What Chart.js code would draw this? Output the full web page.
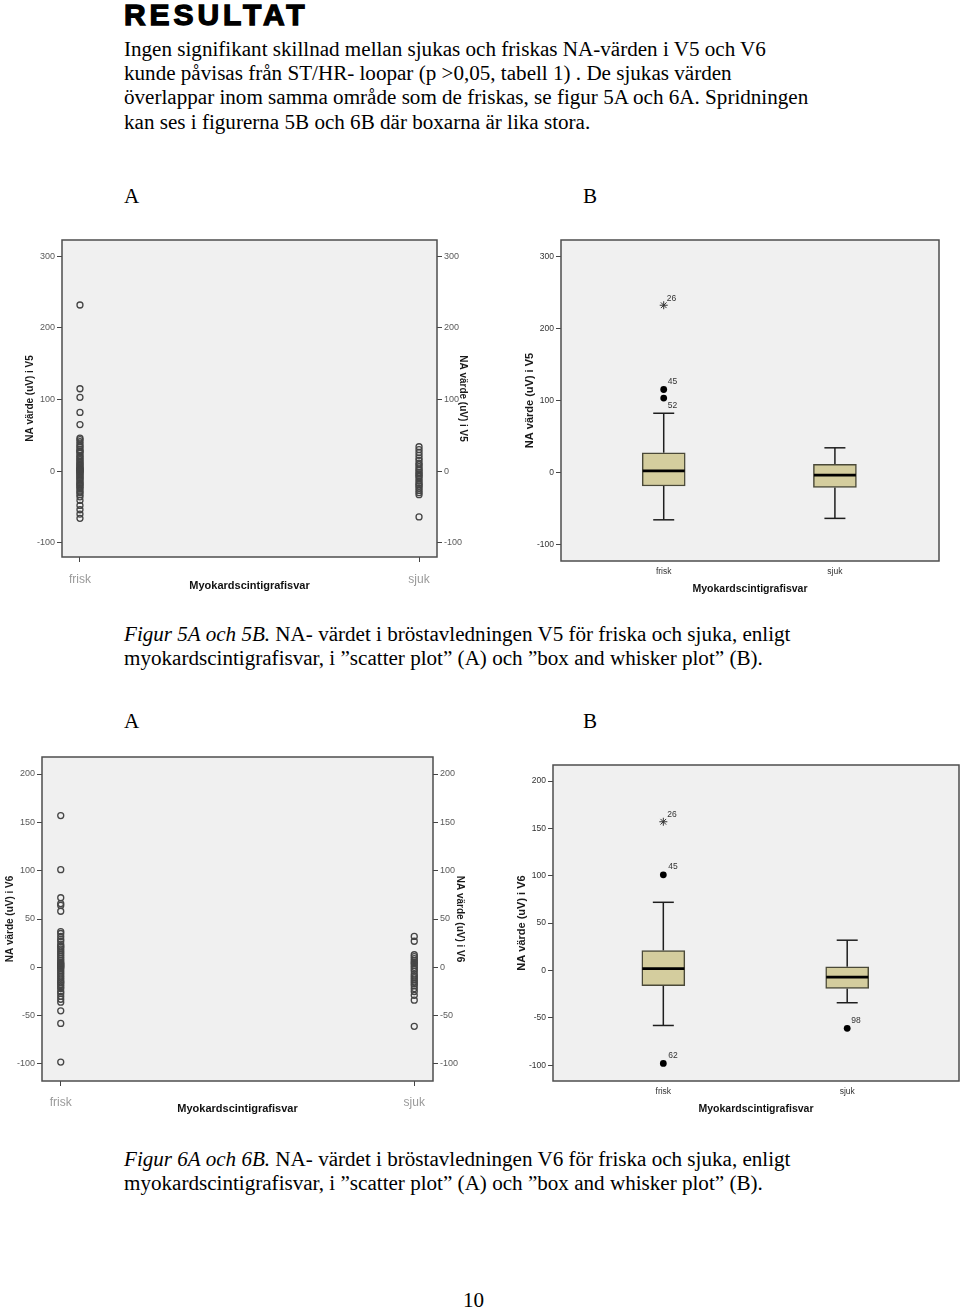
<!DOCTYPE html>
<html><head><meta charset="utf-8">
<script src="https://cdn.jsdelivr.net/npm/chart.js@4.4.0/dist/chart.umd.min.js"></script>
<style>
html,body{margin:0;padding:0;background:#fff;}
body{width:960px;height:1308px;position:relative;overflow:hidden;font-family:"Liberation Serif","Times New Roman",serif;color:#000;}
.t{position:absolute;white-space:nowrap;font-size:21.1px;line-height:24.3px;}
.h{position:absolute;left:124px;top:0;font-family:"Liberation Sans",Arial,sans-serif;font-weight:900;font-size:30px;line-height:30px;letter-spacing:3.9px;-webkit-text-stroke:1.3px #000;}
canvas{position:absolute;}
</style></head><body>
<div class="h">RESULTAT</div>
<div class="t" style="left:124px;top:36.8px;">Ingen signifikant skillnad mellan sjukas och friskas NA-värden i V5 och V6<br>kunde påvisas från ST/HR- loopar (p &gt;0,05, tabell 1) . De sjukas värden<br>överlappar inom samma område som de friskas, se figur 5A och 6A. Spridningen<br>kan ses i figurerna 5B och 6B där boxarna är lika stora.</div>
<div class="t" style="left:124px;top:183.8px;">A</div>
<div class="t" style="left:583px;top:183.8px;">B</div>
<canvas id="c5a" width="492" height="380" style="left:0;top:228px;"></canvas>
<canvas id="c5b" width="445" height="380" style="left:505px;top:228px;"></canvas>
<div class="t" style="left:124px;top:621.8px;"><i>Figur 5A och 5B.</i> NA- värdet i bröstavledningen V5 för friska och sjuka, enligt<br>myokardscintigrafisvar, i ”scatter plot” (A) och ”box and whisker plot” (B).</div>
<div class="t" style="left:124px;top:708.8px;">A</div>
<div class="t" style="left:583px;top:708.8px;">B</div>
<canvas id="c6a" width="490" height="385" style="left:0;top:745px;"></canvas>
<canvas id="c6b" width="455" height="377" style="left:505px;top:753px;"></canvas>
<div class="t" style="left:124px;top:1146.8px;"><i>Figur 6A och 6B.</i> NA- värdet i bröstavledningen V6 för friska och sjuka, enligt<br>myokardscintigrafisvar, i ”scatter plot” (A) och ”box and whisker plot” (B).</div>
<div class="t" style="left:463px;top:1287.8px;">10</div>
<script>
// ---- data ----
const categories = ['frisk', 'sjuk'];
const xTitle = 'Myokardscintigrafisvar';
const v5Title = 'NA värde (uV) i V5';
const v6Title = 'NA värde (uV) i V6';
const v5TicksY = [-100, 0, 100, 200, 300];
const v6TicksY = [-100, -50, 0, 50, 100, 150, 200];

// scatter values (uV)
const v5Frisk = [232, 115, 103, 82, 65, 46, 44, 41, 38, 35, 33, 30, 28, 27, 25, 22, 20, 18, 16, 14, 12, 10, 9, 7, 5, 4, 3, 2, 1, 0, -1, -2, -4, -5, -7, -9, -10, -12, -14, -16, -18, -19, -21, -23, -25, -28, -30, -33, -36, -41, -48, -54, -60, -66];
const v5Sjuk = [34, 30, 26, 22, 18, 15, 11, 9, 6, 3, 1, -2, -4, -6, -8, -11, -14, -17, -19, -21, -24, -27, -30, -33, -64];
const v6Frisk = [157, 101, 72, 66, 64, 58, 37, 35, 32, 29, 27, 24, 22, 21, 19, 17, 15, 13, 11, 9, 7, 5, 4, 3, 2, 1, 0, -1, -3, -5, -7, -9, -11, -13, -15, -16, -18, -20, -22, -25, -27, -30, -33, -36, -45, -58, -98];
const v6Sjuk = [32, 27, 13, 11, 9, 7, 5, 4, 2, 0, -2, -4, -7, -9, -11, -13, -15, -17, -19, -22, -25, -29, -34, -61];

// box stats per category: [low whisker, Q1, median, Q3, high whisker]
const v5BoxStats = [[-66, -19, 2, 27, 82], [-64, -21, -4, 11, 34]];
const v6BoxStats = [[-58, -16, 2, 21, 72], [-34, -19, -7, 4, 32]];
// outliers (category number, value, case id)
const v5OutlierCat = [1, 1];
const v5OutlierVal = [115, 103];
const v5OutlierId = ['45', '52'];
const v5ExtremeCat = [1];
const v5ExtremeVal = [232];
const v5ExtremeId = ['26'];
const v6OutlierCat = [1, 1, 2];
const v6OutlierVal = [101, -98, -61];
const v6OutlierId = ['45', '62', '98'];
const v6ExtremeCat = [1];
const v6ExtremeVal = [157];
const v6ExtremeId = ['26'];

// ---- drawing ----
const fontSans = '"Liberation Sans", Arial, sans-serif';
Chart.defaults.font.family = fontSans;

const frameBg = {
  id: 'frameBg',
  beforeDraw(c) {
    const a = c.chartArea, x = c.ctx;
    x.save(); x.fillStyle = '#f0f0f0';
    x.fillRect(a.left, a.top, a.right - a.left, a.bottom - a.top); x.restore();
  },
  afterDraw(c) {
    const a = c.chartArea, x = c.ctx;
    x.save(); x.strokeStyle = '#4e4e4e'; x.lineWidth = 1.5;
    x.strokeRect(a.left, a.top, a.right - a.left, a.bottom - a.top); x.restore();
  }
};
const pointLabels = {
  id: 'pointLabels',
  afterDatasetsDraw(c) {
    const x = c.ctx;
    c.data.datasets.forEach((ds, i) => {
      if (!ds.caseIds) return;
      const meta = c.getDatasetMeta(i);
      x.save();
      x.font = '8.5px ' + fontSans; x.fillStyle = '#333';
      x.textAlign = 'left'; x.textBaseline = 'middle';
      meta.data.forEach((pt, j) => {
        const off = ds.labelOffsets[j];
        x.fillText(ds.caseIds[j], pt.x + off[0], pt.y + off[1]);
      });
      x.restore();
    });
  }
};

function yAxis(o) {
  return {
    type: 'linear', position: o.position, min: o.min, max: o.max,
    afterBuildTicks: s => { s.ticks = o.ticks.map(v => ({ value: v })); },
    afterFit: s => { s.width = o.width; },
    grid: { drawOnChartArea: false, drawTicks: true, tickLength: o.tickLength, color: '#444', lineWidth: 1 },
    border: { display: false },
    ticks: { font: { size: o.tickSize }, color: o.tickColor, padding: o.tickPad },
    title: { display: true, text: o.title, font: { size: o.titleSize, weight: 'bold' }, color: '#1a1a1a', padding: { top: o.titlePad, bottom: 0 } }
  };
}
function xAxis(o) {
  return {
    type: 'linear', min: o.min, max: o.max, offset: false,
    afterBuildTicks: s => { s.ticks = categories.map((_, i) => ({ value: i + 1 })); },
    afterFit: s => { s.height = o.height; },
    grid: { drawOnChartArea: false, offset: false, drawTicks: o.drawTicks, tickLength: 5, color: '#444' },
    border: { display: false },
    ticks: { callback: v => categories[v - 1], font: { size: o.tickSize }, color: o.tickColor, padding: o.tickPad, maxRotation: 0, autoSkip: false },
    title: { display: true, text: xTitle, font: { size: o.titleSize, weight: 'bold' }, color: '#111', padding: { top: 0, bottom: o.titlePad } }
  };
}

function scatterChart(id, o) {
  const pt = { showLine: false, pointRadius: 3, pointHoverRadius: 3, pointBorderWidth: 1.3, pointBorderColor: '#454545', pointBackgroundColor: 'rgba(0,0,0,0)' };
  new Chart(document.getElementById(id), {
    type: 'scatter',
    data: { datasets: [
      Object.assign({ data: o.frisk.map(v => ({ x: 1, y: v })) }, pt),
      Object.assign({ data: o.sjuk.map(v => ({ x: 2, y: v })) }, pt)
    ] },
    options: {
      responsive: false, animation: false, events: [],
      layout: { autoPadding: false, padding: { top: 12, left: 0, right: 0, bottom: 0 } },
      plugins: { legend: { display: false }, tooltip: { enabled: false } },
      scales: {
        x: xAxis({ min: 0.947, max: 2.053, height: o.xHeight, drawTicks: true, tickSize: 12, tickColor: '#9a9a9a', tickPad: o.xTickPad, titleSize: 11, titlePad: o.xTitlePad }),
        y: yAxis({ position: 'left', min: o.min, max: o.max, ticks: o.ticks, width: o.leftW, tickLength: 5, tickSize: 9, tickColor: '#5a5a5a', tickPad: 2, title: o.title, titleSize: 10, titlePad: o.leftTitlePad }),
        y2: yAxis({ position: 'right', min: o.min, max: o.max, ticks: o.ticks, width: o.rightW, tickLength: 5, tickSize: 9, tickColor: '#5a5a5a', tickPad: 2, title: o.title, titleSize: 10, titlePad: o.rightTitlePad })
      }
    },
    plugins: [frameBg]
  });
}

function boxChart(id, o) {
  const box = o.stats.map((s, i) => ({ x: i + 1, y: [s[1], s[3]] }));
  const med = o.stats.map((s, i) => ({ x: i + 1, y: s[2] }));
  const caps = [], whisk = [];
  o.stats.forEach((s, i) => {
    caps.push({ x: i + 1, y: s[0] }, { x: i + 1, y: s[4] });
    whisk.push({ x: i + 1, y: s[3] }, { x: i + 1, y: s[4] }, { x: i + 1, y: null },
               { x: i + 1, y: s[1] }, { x: i + 1, y: s[0] }, { x: i + 1, y: null });
  });
  const outl = o.outCat.map((c, i) => ({ x: c, y: o.outVal[i] }));
  const ext = o.extCat.map((c, i) => ({ x: c, y: o.extVal[i] }));
  new Chart(document.getElementById(id), {
    type: 'bar',
    data: { datasets: [
      { type: 'line', data: whisk, borderColor: '#1e1e1e', borderWidth: 1.5, pointRadius: 0, spanGaps: false, order: 3 },
      { type: 'bar', data: box, barThickness: 43, backgroundColor: 'rgb(212,205,158)', borderColor: '#4a4938', borderWidth: 1.5, borderSkipped: false, order: 2 },
      { type: 'line', data: caps, showLine: false, pointStyle: 'line', pointRadius: 10.5, pointBorderWidth: 1.5, pointBorderColor: '#1e1e1e', order: 1 },
      { type: 'line', data: med, showLine: false, pointStyle: 'line', pointRadius: 21, pointBorderWidth: 2.6, pointBorderColor: '#000', order: 0 },
      { type: 'line', data: outl, showLine: false, pointStyle: 'circle', pointRadius: 3.4, pointBorderWidth: 0, pointBackgroundColor: '#000', caseIds: o.outId, labelOffsets: o.outOff, order: 0 },
      { type: 'line', data: ext, showLine: false, pointStyle: 'star', pointRadius: 4, pointBorderWidth: 1, pointBorderColor: '#333', caseIds: o.extId, labelOffsets: o.extOff, order: 0 }
    ] },
    options: {
      responsive: false, animation: false, events: [],
      layout: { autoPadding: false, padding: { top: 12, left: 0, right: o.padRight, bottom: 0 } },
      plugins: { legend: { display: false }, tooltip: { enabled: false } },
      scales: {
        x: xAxis({ min: 0.4, max: 2.608, height: o.xHeight, drawTicks: false, tickSize: 8.5, tickColor: '#333', tickPad: 6, titleSize: 10.5, titlePad: o.xTitlePad }),
        y: yAxis({ position: 'left', min: o.min, max: o.max, ticks: o.ticks, width: o.leftW, tickLength: 5, tickSize: 8.5, tickColor: '#333', tickPad: 2, title: o.title, titleSize: 11, titlePad: o.leftTitlePad })
      }
    },
    plugins: [frameBg, pointLabels]
  });
}

scatterChart('c5a', { frisk: v5Frisk, sjuk: v5Sjuk, min: -120, max: 322.8, ticks: v5TicksY, title: v5Title,
  leftW: 62, rightW: 55, xHeight: 51, xTickPad: 10, xTitlePad: 15.4, leftTitlePad: 24, rightTitlePad: 23 });
scatterChart('c6a', { frisk: v6Frisk, sjuk: v6Sjuk, min: -117.6, max: 217.6, ticks: v6TicksY, title: v6Title,
  leftW: 42, rightW: 57, xHeight: 49, xTickPad: 9, xTitlePad: 14.4, leftTitlePad: 4, rightTitlePad: 24 });
boxChart('c5b', { stats: v5BoxStats, outCat: v5OutlierCat, outVal: v5OutlierVal, outId: v5OutlierId, outOff: [[4, -8], [4, 8]],
  extCat: v5ExtremeCat, extVal: v5ExtremeVal, extId: v5ExtremeId, extOff: [[3, -7]],
  min: -123.2, max: 322.6, ticks: v5TicksY, title: v5Title, leftW: 56, padRight: 11, xHeight: 47, xTitlePad: 12.7, leftTitlePad: 18.4 });
boxChart('c6b', { stats: v6BoxStats, outCat: v6OutlierCat, outVal: v6OutlierVal, outId: v6OutlierId, outOff: [[5, -8], [5, -8], [4, -8]],
  extCat: v6ExtremeCat, extVal: v6ExtremeVal, extId: v6ExtremeId, extOff: [[4, -7]],
  min: -116.6, max: 216.9, ticks: v6TicksY, title: v6Title, leftW: 48, padRight: 1, xHeight: 49, xTitlePad: 14.7, leftTitlePad: 10 });
</script>
</body></html>
